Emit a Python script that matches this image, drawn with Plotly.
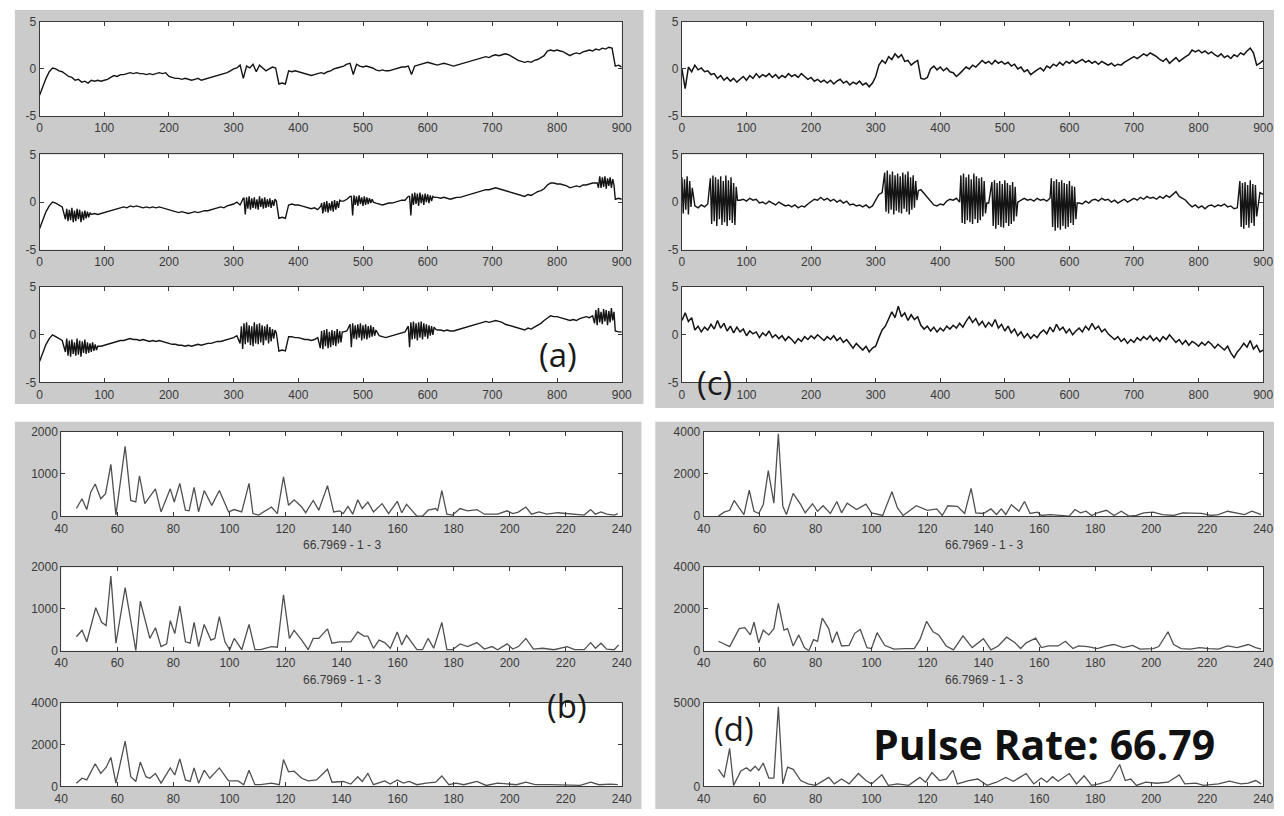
import plotly.graph_objects as go

W, H = 1284, 816

# ---------------- time axis (samples) ----------------
T = list(range(0, 901, 5))
BURST_STEP = 2

# panel (a) – three time series (coarse trace, every 5 samples)
A1 = [-2.8,-1.8,-1.0,-0.3,0.1,0.0,-0.2,-0.3,-0.6,-0.8,-0.9,-1.2,-1.1,-1.4,-1.3,-1.5,-1.2,-1.3,-1.2,-1.3,
      -1.2,-1.1,-0.9,-0.7,-0.8,-0.6,-0.6,-0.5,-0.4,-0.5,-0.4,-0.5,-0.5,-0.6,-0.5,-0.6,-0.5,-0.4,-0.5,-0.4,
      -0.8,-0.9,-1.0,-1.0,-1.1,-1.0,-1.1,-1.2,-1.1,-1.0,-1.2,-1.1,-1.0,-0.9,-0.8,-0.7,-0.6,-0.5,-0.4,-0.2,
      0.0,0.1,0.4,-1.0,0.3,0.1,0.5,-0.3,0.4,0.1,-0.2,0.0,0.2,0.1,-1.6,-1.5,-1.6,-0.2,-0.3,-0.2,
      -0.3,-0.4,-0.5,-0.6,-0.7,-0.6,-0.5,-0.4,-0.5,-0.3,-0.2,0.0,0.1,0.2,0.3,0.5,0.6,-0.6,0.5,0.3,
      0.2,0.3,0.2,0.1,-0.1,-0.2,-0.1,-0.2,-0.2,-0.1,0.0,0.1,0.2,0.2,0.3,-0.6,0.3,0.4,0.5,0.6,
      0.7,0.6,0.5,0.4,0.5,0.6,0.5,0.4,0.3,0.4,0.5,0.6,0.7,0.8,0.9,1.0,1.1,1.2,1.3,1.2,
      1.4,1.5,1.4,1.5,1.6,1.5,1.3,1.1,0.9,0.8,0.7,0.8,0.7,0.9,1.0,1.2,1.4,1.9,2.0,1.9,
      2.0,1.9,1.8,1.6,1.4,1.6,1.7,1.6,1.8,1.9,2.0,1.9,2.1,2.0,2.2,2.1,2.3,2.2,0.3,0.4,
      0.2]
A2 = [-2.8,-1.9,-1.0,-0.4,0.0,-0.1,-0.3,-0.5,-1.6,-0.6,-2.0,-0.8,-1.9,-0.9,-2.1,-1.0,-1.6,-1.2,-1.3,-1.2,
      -1.1,-1.0,-0.9,-0.8,-0.7,-0.6,-0.5,-0.6,-0.4,-0.5,-0.4,-0.5,-0.6,-0.5,-0.6,-0.5,-0.6,-0.5,-0.6,-0.7,
      -0.8,-0.9,-1.0,-1.1,-1.0,-1.1,-1.2,-1.1,-1.0,-1.1,-1.0,-0.9,-0.9,-0.8,-0.7,-0.6,-0.5,-0.6,-0.4,-0.3,
      -0.2,0.0,-0.3,0.4,-1.3,0.5,-0.7,0.6,-0.8,0.4,-0.6,0.3,-0.5,0.2,-1.7,-1.6,-1.7,-0.3,-0.2,-0.3,
      -0.3,-0.4,-0.5,-0.6,-0.7,-0.6,-0.8,-0.4,-1.2,0.0,-1.0,0.1,-0.8,0.2,0.1,0.3,0.6,-1.4,0.7,-0.3,
      0.6,-0.4,0.5,0.0,-0.1,-0.2,-0.3,-0.2,-0.1,-0.1,0.0,0.1,0.2,0.2,0.6,-1.4,0.9,-0.3,1.0,-0.2,
      0.9,0.0,0.6,0.5,0.4,0.5,0.4,0.3,0.4,0.5,0.5,0.6,0.7,0.8,0.9,1.0,1.1,1.2,1.3,1.3,
      1.4,1.5,1.4,1.3,1.2,1.1,1.0,0.9,0.8,0.7,0.6,0.8,0.7,0.9,1.1,1.2,1.4,1.8,2.0,2.0,
      1.9,1.9,1.8,1.7,1.5,1.6,1.7,1.6,1.8,1.8,1.9,2.0,2.0,1.6,2.7,1.5,2.6,1.6,0.3,0.4,
      0.3]
A3 = [-2.8,-1.9,-1.0,-0.4,0.0,-0.2,-0.4,-0.6,-1.8,-0.4,-2.2,-0.6,-2.3,-0.5,-2.0,-0.8,-1.9,-0.9,-1.6,-1.2,
      -1.1,-1.0,-0.9,-0.8,-0.7,-0.6,-0.6,-0.5,-0.4,-0.5,-0.5,-0.6,-0.5,-0.6,-0.7,-0.6,-0.7,-0.6,-0.7,-0.8,
      -0.9,-1.0,-1.0,-1.1,-1.1,-1.2,-1.1,-1.2,-1.1,-1.0,-1.1,-1.0,-0.9,-0.9,-0.8,-0.7,-0.7,-0.6,-0.5,-0.4,
      -0.3,-0.1,-0.9,0.9,-1.5,1.2,-1.0,1.3,-0.8,1.0,-1.1,0.9,-0.6,0.3,-1.7,-1.6,-1.7,-0.2,-0.2,-0.3,
      -0.3,-0.4,-0.5,-0.5,-0.6,-0.5,-0.3,-1.4,0.4,-1.5,0.5,-1.2,0.6,-0.9,0.3,0.4,1.1,-1.3,1.2,-0.4,
      1.0,-0.5,1.1,-0.3,0.5,-0.1,-0.2,-0.3,-0.2,-0.1,0.0,0.1,0.2,0.3,0.9,-1.3,1.3,-0.5,1.4,-0.4,
      1.2,-0.2,0.8,0.5,0.5,0.4,0.5,0.4,0.4,0.5,0.6,0.7,0.8,0.9,1.0,1.1,1.2,1.3,1.4,1.3,
      1.4,1.5,1.4,1.3,1.1,1.0,0.9,0.8,0.7,0.6,0.5,0.7,0.6,0.8,1.0,1.2,1.5,1.8,2.0,1.9,
      1.9,1.8,1.7,1.6,1.5,1.6,1.5,1.7,1.8,1.9,1.8,2.0,1.2,2.6,1.0,2.8,1.3,2.4,0.4,0.3,
      0.3]

# noisy bursts (denser trace, every 2 samples) – start sample of each burst and its values
A2_BURST_START = [40, 316, 436, 482, 572, 862]
A2_BURSTS = [
    [-1.8,-0.7,-2.0,-0.8,-1.9,-0.6,-2.1,-0.9,-2.0,-0.7,-1.8,-0.8,-2.1,-1.0,-1.9,-0.9,-1.7,-1.0,-1.6,-1.1,-1.3],
    [0.4,-1.3,0.5,-0.7,0.6,-0.8,0.4,-0.6,0.5,-0.7,0.3,-0.8,0.6,-0.5,0.4,-0.7,0.5,-0.6,0.3,-0.5,0.4,-0.6,0.2,-0.4,0.3,0.1],
    [-0.1,-1.2,0.0,-1.0,0.1,-1.1,-0.1,-0.9,0.1,-1.0,0.2,-0.8,0.1,-0.6,0.2,0.1],
    [0.6,-1.4,0.7,-0.3,0.6,-0.4,0.7,-0.2,0.5,-0.4,0.6,-0.3,0.5,-0.2,0.4,-0.1,0.3,0.0],
    [0.6,-1.4,0.9,-0.3,1.0,-0.2,0.9,-0.4,1.0,-0.1,0.8,-0.3,0.9,0.0,0.8,-0.1,0.7,0.1,0.6,0.5],
    [2.0,1.5,2.7,1.5,2.6,1.6,2.7,1.4,2.5,1.7,2.6,1.5,2.4,1.8],
]
A3_BURST_START = [40, 310, 434, 480, 570, 858]
A3_BURSTS = [
    [-1.8,-0.4,-2.2,-0.6,-2.3,-0.5,-2.0,-0.8,-2.2,-0.4,-2.1,-0.6,-2.3,-0.7,-1.9,-0.5,-2.0,-0.8,-1.9,-0.9,-1.8,-0.8,-1.7,-1.0,-1.6,-1.2],
    [-0.9,0.9,-1.5,1.2,-1.0,1.3,-0.8,1.0,-1.1,0.9,-1.2,1.3,-0.9,1.1,-1.0,1.2,-0.8,1.0,-1.1,0.9,-0.6,1.1,-0.9,0.8,-0.7,0.6,-0.4,0.5,0.2],
    [-1.4,0.4,-1.5,0.5,-1.2,0.6,-1.4,0.3,-1.3,0.5,-1.1,0.4,-1.2,0.6,-0.9,0.4,-0.8,0.3,0.3],
    [1.1,-1.3,1.2,-0.4,1.0,-0.5,1.1,-0.3,1.2,-0.6,1.0,-0.4,1.1,-0.5,0.9,-0.3,1.0,-0.2,0.8,-0.1,0.5],
    [0.9,-1.3,1.3,-0.5,1.4,-0.4,1.2,-0.6,1.3,-0.3,1.4,-0.5,1.2,-0.2,1.1,-0.4,1.0,-0.1,0.9,0.0,0.8,0.6],
    [1.2,2.6,1.0,2.8,1.3,2.4,1.1,2.7,1.4,2.6,1.0,2.5,1.3,2.8,1.5,2.4],
]

# panel (c) – three time series
C1 = [0.0,-2.1,0.2,-0.3,0.4,-0.1,0.1,-0.3,-0.2,-0.6,-0.5,-1.0,-0.7,-1.2,-0.9,-1.3,-1.0,-1.4,-1.1,-0.8,
      -1.2,-0.7,-1.0,-0.5,-0.9,-0.6,-0.8,-0.5,-0.9,-0.6,-1.0,-0.7,-0.9,-0.5,-0.8,-0.6,-0.9,-0.5,-0.8,-1.1,
      -0.9,-1.3,-1.1,-1.4,-1.2,-1.5,-1.2,-1.6,-1.3,-1.1,-1.5,-1.3,-1.7,-1.4,-1.6,-1.3,-1.7,-1.5,-1.9,-1.5,
      -0.8,0.4,0.9,0.6,1.3,1.0,1.6,1.2,1.5,0.8,0.9,0.4,0.7,0.9,-1.0,-1.1,-0.9,0.0,0.3,-0.1,
      0.2,-0.2,0.1,-0.3,-0.4,-0.8,-0.5,-0.2,0.2,0.0,0.4,0.2,0.6,0.9,0.6,0.8,0.5,0.9,0.6,0.8,
      0.5,0.7,0.3,0.5,0.0,0.2,-0.3,-0.1,-0.6,-0.3,-0.1,0.1,-0.2,0.3,0.1,0.5,0.3,0.7,0.4,0.8,
      0.6,0.9,0.6,0.8,1.0,0.7,0.9,0.6,0.8,0.5,0.8,0.6,0.4,0.6,0.3,0.5,0.4,0.7,0.9,1.1,
      1.3,1.1,1.4,1.6,1.4,1.7,1.5,1.3,1.0,0.8,1.1,0.6,0.9,1.2,0.8,1.1,1.3,1.5,2.0,1.8,
      2.0,1.7,1.9,1.6,1.8,1.5,1.3,1.6,1.2,1.4,1.1,1.5,1.3,1.7,1.5,1.9,2.2,1.7,0.4,0.6,
      0.9]
C2 = [2.6,-1.3,2.4,-0.5,-0.4,-0.6,-0.3,-0.5,-0.2,2.5,-2.3,2.8,-2.5,2.6,-2.1,2.2,-2.4,1.5,0.2,0.3,
      0.1,0.4,0.2,0.3,-0.1,0.0,-0.2,0.1,-0.1,-0.3,0.0,-0.2,-0.4,-0.3,-0.5,-0.3,-0.6,-0.4,-0.5,-0.2,
      0.1,0.3,0.2,0.5,0.2,0.4,0.1,0.3,0.0,0.2,-0.1,0.1,-0.3,-0.2,-0.4,-0.3,-0.5,-0.3,-0.6,-0.4,
      0.2,0.8,1.0,3.1,-1.0,3.3,-1.2,2.9,-0.9,3.0,-1.3,2.7,-0.8,1.2,1.3,0.9,0.5,0.0,-0.3,-0.4,
      -0.2,-0.3,0.1,0.3,0.2,0.4,0.0,2.8,-2.2,3.0,-2.3,2.6,-1.9,2.4,-1.5,-0.1,2.1,-2.5,2.3,-2.8,
      2.0,-2.4,1.8,-2.0,0.0,0.2,0.4,0.2,0.3,0.1,0.4,0.2,0.3,0.1,0.4,2.5,-2.6,2.2,-3.0,2.4,
      -2.7,1.9,-2.2,-0.1,-0.2,0.1,-0.1,0.2,0.3,0.1,0.4,0.2,0.3,0.0,0.2,-0.1,0.1,0.3,0.0,0.2,
      0.4,0.2,0.5,0.3,0.6,0.4,0.5,0.3,0.6,0.4,0.7,0.5,0.8,1.1,0.6,0.4,0.2,-0.2,-0.5,-0.3,
      -0.6,-0.4,-0.7,-0.4,-0.3,-0.5,-0.3,-0.4,-0.2,-0.5,-0.4,-0.7,-0.6,2.2,-2.6,2.0,-2.8,1.8,-1.5,1.0,
      0.8]
C2_BURST_START = [0, 44, 314, 432, 480, 572, 864]
C2_BURSTS = [
    [2.6,-1.2,2.4,-0.8,2.7,-1.3,2.2,-0.5,1.5],
    [2.5,-2.3,2.8,-2.0,2.6,-2.5,2.4,-1.8,2.7,-2.4,2.2,-2.1,2.8,-2.5,2.3,-1.9,2.6,-2.2,2.0,-2.4,1.6,0.2],
    [3.1,-1.0,3.3,-1.2,2.9,-0.8,3.2,-1.3,2.8,-0.9,3.0,-1.1,2.7,-1.2,3.1,-0.7,2.9,-1.0,3.2,-1.3,2.6,-0.8,2.8,-0.6,2.2,0.2,1.2],
    [2.8,-2.2,3.0,-2.3,2.6,-1.9,2.9,-2.1,2.4,-2.3,3.0,-1.8,2.7,-2.2,2.5,-1.9,2.6,-1.5,2.2,-1.2,-0.1],
    [2.1,-2.5,2.3,-2.8,2.0,-2.4,2.2,-2.6,1.9,-2.7,2.3,-2.2,2.0,-2.5,1.8,-2.3,2.1,-2.0,1.6,-1.5,0.0],
    [2.5,-2.6,2.2,-3.0,2.4,-2.7,2.1,-2.9,2.3,-2.5,2.0,-2.8,1.9,-2.6,2.2,-2.2,1.7,-2.4,1.6,-1.8,-0.1],
    [2.2,-2.6,2.0,-2.8,2.1,-2.4,1.8,-2.7,2.3,-2.2,1.9,-2.5,1.8,-1.5],
]
C3 = [1.5,2.3,1.4,1.8,0.5,0.9,0.3,0.8,0.5,1.1,0.6,1.5,0.7,1.2,0.4,0.9,0.2,0.8,0.3,0.6,
      -0.1,0.4,0.1,0.3,-0.3,0.2,-0.1,0.4,-0.3,0.0,-0.4,-0.1,-0.6,-0.2,-0.5,-0.9,-0.4,-0.7,-0.2,-0.5,
      -0.1,-0.4,0.0,-0.3,-0.6,-0.2,-0.5,-0.1,-0.6,-0.3,-0.8,-0.5,-1.0,-1.4,-0.9,-1.3,-1.6,-1.2,-1.8,-1.4,
      -1.2,-0.3,0.5,0.9,1.6,2.4,1.8,3.0,1.9,2.3,1.5,2.1,1.6,1.9,1.0,0.6,0.9,0.4,0.8,0.3,
      0.7,0.4,0.9,0.6,1.0,0.7,1.2,0.8,1.4,1.9,1.3,1.7,1.0,1.4,0.8,1.3,0.9,1.6,0.7,1.1,
      0.4,0.9,0.2,0.6,-0.1,0.3,-0.3,0.1,-0.4,0.0,-0.3,0.2,0.5,0.1,0.8,0.3,1.1,0.5,0.8,0.2,
      0.6,0.0,0.4,0.7,0.3,0.9,0.5,1.2,0.6,0.9,0.3,0.6,0.1,-0.2,-0.5,-0.2,-0.7,-0.4,-0.9,-0.5,
      -0.8,-0.3,-0.6,-0.2,-0.5,-0.1,-0.6,-0.3,-0.7,-0.2,-0.5,0.0,-0.4,-0.8,-0.5,-1.0,-0.6,-1.1,-0.7,-0.9,
      -1.2,-0.8,-1.1,-0.7,-1.0,-1.4,-1.0,-1.3,-1.6,-1.2,-1.9,-2.4,-1.8,-1.4,-0.9,-1.3,-0.6,-1.5,-1.1,-1.8,
      -1.6]

# panel (b) – three spectra (frequency, power)
B1_F = [45.4,47.4,49.1,50.5,52.1,54.1,55.8,57.7,59.5,62.8,64.8,66.6,67.9,69.8,73.6,75.6,78.9,80.3,82.3,84.3,
        85.6,87.4,89.0,91.0,93.7,96.4,99.7,101.7,104.4,107.0,108.4,110.4,115.0,117.1,119.3,121.1,123.1,125.8,127.2,129.9,
        131.9,135.0,137.2,139.3,140.6,142.3,144.0,145.8,147.4,149.4,151.4,154.5,156.8,159.9,161.5,163.2,166.9,168.9,170.9,173.6,
        174.3,175.8,177.6,179.6,182.3,185.0,188.3,191.0,195.7,199.1,201.1,203.1,205.8,207.8,210.5,213.2,217.2,222.6,226.6,228.9,
        230.6,232.6,234.6,237.3,238.6]
B1_P = [180,410,155,565,760,410,530,1225,25,1650,370,335,955,295,645,100,645,335,775,140,
        125,680,100,605,255,605,100,155,100,775,60,25,215,60,930,255,385,215,80,370,
        140,720,100,125,60,230,45,385,180,330,100,295,60,350,80,280,0,0,140,180,
        125,605,45,25,180,125,155,45,45,125,60,95,215,45,100,45,80,45,25,155,
        45,100,45,25,60]
B2_F = [45.4,47.4,49.1,52.3,54.4,56.0,57.7,59.5,62.8,66.6,68.2,71.6,73.6,75.6,77.6,78.9,80.5,82.3,84.3,86.0,
        87.4,89.0,91.0,93.4,94.8,96.4,98.4,100.1,101.7,104.4,107.0,109.1,111.1,115.0,117.1,119.3,121.4,123.1,125.8,128.1,
        129.9,131.9,135.0,136.6,139.3,143.3,145.8,148.0,149.4,151.4,153.4,155.4,157.4,159.9,161.5,163.2,166.9,168.9,170.9,172.9,
        175.8,177.6,179.6,182.3,185.0,188.3,191.0,193.7,195.7,199.1,201.1,203.1,205.8,208.5,211.8,215.8,220.5,223.2,226.6,228.9,
        230.6,232.6,234.6,237.3,238.9]
B2_P = [335,490,215,1030,680,605,1790,180,1510,0,1185,295,550,100,165,720,410,1070,215,180,
        680,100,630,255,295,815,215,25,295,25,630,25,25,100,85,1340,295,490,255,25,
        295,295,525,180,215,215,450,350,350,60,255,195,60,450,140,370,25,25,295,60,
        680,25,25,165,100,195,40,100,25,165,40,100,295,40,60,25,100,25,25,195,
        60,180,40,25,140]
B3_F = [45.4,47.4,49.1,52.1,54.1,56.1,57.7,59.5,62.8,64.8,66.6,68.2,70.2,71.6,73.6,75.6,78.9,80.5,82.3,84.3,
        86.0,87.4,89.0,91.0,93.0,96.4,99.7,103.1,105.1,107.0,109.1,111.1,115.0,117.8,119.3,121.1,123.1,125.8,128.1,131.1,
        135.0,136.6,140.6,143.3,145.8,147.4,149.4,151.4,155.4,157.4,159.9,162.1,164.1,166.9,170.2,173.6,175.8,178.3,180.9,183.6,
        188.3,191.6,195.7,199.1,202.4,205.8,209.1,214.5,219.9,225.2,228.9,231.9,235.9,238.6]
B3_P = [155,390,310,1085,620,930,1395,155,2170,465,235,1165,465,390,620,155,885,545,1320,310,
        235,885,155,775,390,885,265,265,80,775,80,80,155,80,1285,700,730,390,265,310,
        820,200,235,110,465,235,620,80,265,110,310,155,235,80,155,200,500,80,155,80,
        235,45,155,110,80,200,80,80,45,45,200,80,110,80]

# panel (d) – three spectra (frequency, power)
D1_F = [45.3,47.3,49.3,50.9,52.7,54.4,56.3,58.0,59.7,61.3,63.1,65.1,66.7,68.3,69.6,72.0,74.7,76.3,78.9,80.7,
        82.7,85.3,87.6,89.3,91.3,94.7,98.0,100.0,104.0,107.3,109.3,111.3,116.0,120.0,123.3,125.3,127.3,130.7,133.3,135.6,
        137.3,140.0,142.7,144.7,146.4,148.0,150.0,152.7,154.7,156.7,159.3,160.7,164.0,168.0,170.7,172.7,174.7,176.7,178.7,180.7,
        184.0,186.7,189.3,192.0,194.7,197.3,200.7,204.0,208.0,211.3,214.7,218.0,221.3,224.0,227.3,230.7,233.3,236.0,239.3]
D1_P = [0,185,275,740,385,75,1230,230,125,540,2150,615,3900,460,75,1075,540,155,585,230,
        490,125,690,155,615,310,570,155,30,1150,385,30,490,275,340,30,490,460,125,1310,
        155,125,340,75,340,75,540,230,690,125,185,30,75,30,0,310,155,230,30,155,
        275,30,230,0,30,155,185,75,30,155,125,125,30,75,230,125,75,230,75]
D2_F = [45.3,48.0,49.3,52.7,54.7,56.7,58.0,59.7,61.3,63.3,65.1,66.7,68.7,70.0,72.0,74.0,76.0,77.6,79.3,80.7,
        82.4,84.7,86.0,87.6,89.3,92.0,94.0,96.0,98.4,100.0,102.0,104.7,108.0,112.0,115.3,117.3,119.7,122.0,124.0,126.7,
        129.3,132.7,136.0,140.0,142.7,145.3,148.3,151.3,153.3,155.3,158.7,160.7,163.3,166.7,169.3,172.0,174.0,177.3,180.7,184.0,
        186.7,190.0,193.3,196.0,200.7,202.7,206.0,208.0,210.7,214.0,217.3,220.7,224.0,227.3,230.7,234.7,237.3,239.3]
D2_P = [455,260,200,1060,1105,760,1365,380,985,760,1060,2270,985,1060,230,760,150,0,530,455,
        1560,1060,380,910,230,260,835,1015,150,105,865,260,75,105,105,530,1410,910,760,230,
        45,710,150,575,45,230,650,380,105,380,605,150,230,230,455,105,230,200,105,230,
        300,150,260,75,105,200,910,300,105,75,150,105,75,230,150,300,150,75]
D3_F = [45.3,47.3,49.3,50.7,53.3,55.3,56.7,58.4,59.7,61.3,63.3,65.1,66.7,68.3,70.0,72.0,74.7,77.3,80.0,84.7,
        86.7,89.3,92.0,95.3,98.0,100.0,103.7,106.0,109.3,113.3,117.3,119.3,121.6,124.3,126.7,129.1,130.7,134.7,138.0,141.3,
        144.7,148.0,150.7,155.3,158.0,160.7,162.7,164.7,166.7,170.7,173.3,176.0,178.7,181.3,185.3,188.7,190.7,192.7,194.7,198.0,
        202.0,206.0,210.0,212.0,216.0,218.7,224.0,228.0,232.0,234.7,237.3,239.3]
D3_P = [1020,540,2270,60,920,1115,920,1210,960,1400,500,500,4770,150,1150,1020,350,150,60,540,
        150,440,150,770,350,150,690,60,150,60,540,250,830,350,440,960,150,350,440,60,
        250,540,310,770,150,500,250,580,310,770,150,635,60,150,350,1310,350,440,60,250,
        190,250,690,150,190,60,150,310,150,190,350,150]

TS_TICKS = [0, 100, 200, 300, 400, 500, 600, 700, 800, 900]
SP_TICKS = [40, 60, 80, 100, 120, 140, 160, 180, 200, 220, 240]
SUBTITLE = "66.7969 - 1 - 3"


def with_bursts(base_x, base_y, starts=(), bursts=()):
    """Replace the coarse trace inside each burst window with the denser burst samples."""
    windows = []
    pts = []
    for s, vals in zip(starts, bursts):
        xs = [s + BURST_STEP * k for k in range(len(vals))]
        windows.append((xs[0], xs[-1]))
        pts.extend(zip(xs, vals))
    for x, y in zip(base_x, base_y):
        if not any(a <= x <= b for a, b in windows):
            pts.append((x, y))
    pts.sort()
    return [p[0] for p in pts], [p[1] for p in pts]


# ---------------- layout geometry (pixels) ----------------
TS_ROWS = [(15, 111), (150, 247), (285, 382)]
SP_ROWS = [(432, 518), (570, 655), (708, 793)]
COL_A = (33, 623)
COL_C = (684, 1273)
COL_B = (55, 623)
COL_D = (706, 1273)

GRAY = "#cbcbcb"
AXC = "#3a3a3a"
TICKFONT = dict(family="Liberation Sans, Arial, sans-serif", size=12, color="#3a3a3a")
TS_COLOR = "#141414"
SP_COLOR = "#505050"

def xd(px):
    return [px[0] / W, px[1] / W]

def yd(py):
    return [1 - py[1] / H, 1 - py[0] / H]

a2x, a2y = with_bursts(T, A2, A2_BURST_START, A2_BURSTS)
a3x, a3y = with_bursts(T, A3, A3_BURST_START, A3_BURSTS)
c2x, c2y = with_bursts(T, C2, C2_BURST_START, C2_BURSTS)

subplots = [
    # (x, y, col, row, xrange, xticks, yrange, yticks, color, width)
    (T, A1, COL_A, TS_ROWS[0], [0, 900], TS_TICKS, [-5, 5], [-5, 0, 5], TS_COLOR, 1.4),
    (a2x, a2y, COL_A, TS_ROWS[1], [0, 900], TS_TICKS, [-5, 5], [-5, 0, 5], TS_COLOR, 1.4),
    (a3x, a3y, COL_A, TS_ROWS[2], [0, 900], TS_TICKS, [-5, 5], [-5, 0, 5], TS_COLOR, 1.4),
    (T, C1, COL_C, TS_ROWS[0], [0, 900], TS_TICKS, [-5, 5], [-5, 0, 5], TS_COLOR, 1.5),
    (c2x, c2y, COL_C, TS_ROWS[1], [0, 900], TS_TICKS, [-5, 5], [-5, 0, 5], TS_COLOR, 1.4),
    (T, C3, COL_C, TS_ROWS[2], [0, 900], TS_TICKS, [-5, 5], [-5, 0, 5], TS_COLOR, 1.5),
    (B1_F, B1_P, COL_B, SP_ROWS[0], [40, 240], SP_TICKS, [0, 2000], [0, 1000, 2000], SP_COLOR, 1.3),
    (B2_F, B2_P, COL_B, SP_ROWS[1], [40, 240], SP_TICKS, [0, 2000], [0, 1000, 2000], SP_COLOR, 1.3),
    (B3_F, B3_P, COL_B, SP_ROWS[2], [40, 240], SP_TICKS, [0, 4000], [0, 2000, 4000], SP_COLOR, 1.3),
    (D1_F, D1_P, COL_D, SP_ROWS[0], [40, 240], SP_TICKS, [0, 4000], [0, 2000, 4000], SP_COLOR, 1.3),
    (D2_F, D2_P, COL_D, SP_ROWS[1], [40, 240], SP_TICKS, [0, 4000], [0, 2000, 4000], SP_COLOR, 1.3),
    (D3_F, D3_P, COL_D, SP_ROWS[2], [40, 240], SP_TICKS, [0, 5000], [0, 5000], SP_COLOR, 1.3),
]

fig = go.Figure()
layout_axes = {}
shapes = []

# gray panel backgrounds
for (x0, x1, y0, y1) in [(8, 645, 3, 404), (657, 1284, 3, 408), (8, 643, 422, 816), (657, 1284, 422, 816)]:
    shapes.append(dict(type="rect", xref="paper", yref="paper", layer="below",
                       x0=x0 / W, x1=x1 / W, y0=1 - y1 / H, y1=1 - y0 / H,
                       fillcolor=GRAY, line=dict(width=0)))

for i, (xs, ys, col, row, xr, xt, yr, yt, colr, lw) in enumerate(subplots, start=1):
    sfx = "" if i == 1 else str(i)
    fig.add_trace(go.Scatter(x=xs, y=ys, mode="lines", xaxis="x" + sfx, yaxis="y" + sfx,
                             line=dict(color=colr, width=lw), showlegend=False, hoverinfo="skip"))
    common = dict(showgrid=False, zeroline=False, showline=True, linecolor=AXC, linewidth=1,
                  mirror="ticks", ticks="inside", ticklen=4, tickcolor=AXC, tickwidth=1,
                  tickfont=TICKFONT, fixedrange=True)
    layout_axes["xaxis" + sfx] = dict(domain=xd(col), range=xr, anchor="y" + sfx,
                                      tickvals=xt, ticktext=[str(v) for v in xt],
                                      ticklabelstandoff=1, **common)
    layout_axes["yaxis" + sfx] = dict(domain=yd(row), range=yr, anchor="x" + sfx,
                                      tickvals=yt, ticktext=[str(v) for v in yt], **common)
    shapes.append(dict(type="rect", xref="paper", yref="paper", layer="below",
                       x0=col[0] / W, x1=col[1] / W, y0=1 - row[1] / H, y1=1 - row[0] / H,
                       fillcolor="white", line=dict(width=0)))

annotations = []
for cx in (339, 990):
    for cy in (547, 685):
        annotations.append(dict(text=SUBTITLE, x=cx / W, y=1 - cy / H, xref="paper", yref="paper",
                                showarrow=False, xanchor="center", yanchor="middle",
                                font=dict(family="Liberation Sans, Arial, sans-serif", size=12, color="#3a3a3a")))

LABEL_FONT = dict(family="Open Sans, sans-serif", size=33, color="#1a1a1a")
for txt, cx, cy in [("(a)", 558, 354), ("(c)", 717, 382), ("(b)", 568, 711), ("(d)", 737, 734)]:
    annotations.append(dict(text=txt, x=cx / W, y=1 - cy / H, xref="paper", yref="paper",
                            showarrow=False, xanchor="center", yanchor="middle", font=LABEL_FONT))
annotations.append(dict(text="<b>Pulse Rate: 66.79</b>", x=1051 / W, y=1 - 750 / H, xref="paper", yref="paper",
                        showarrow=False, xanchor="center", yanchor="middle",
                        font=dict(family="Open Sans, sans-serif", size=41, color="#111111")))

fig.update_layout(width=W, height=H, margin=dict(l=0, r=0, t=0, b=0),
                  paper_bgcolor="white", plot_bgcolor="white",
                  shapes=shapes, annotations=annotations, **layout_axes)

fig.write_html("out.html", config={"displayModeBar": False})
